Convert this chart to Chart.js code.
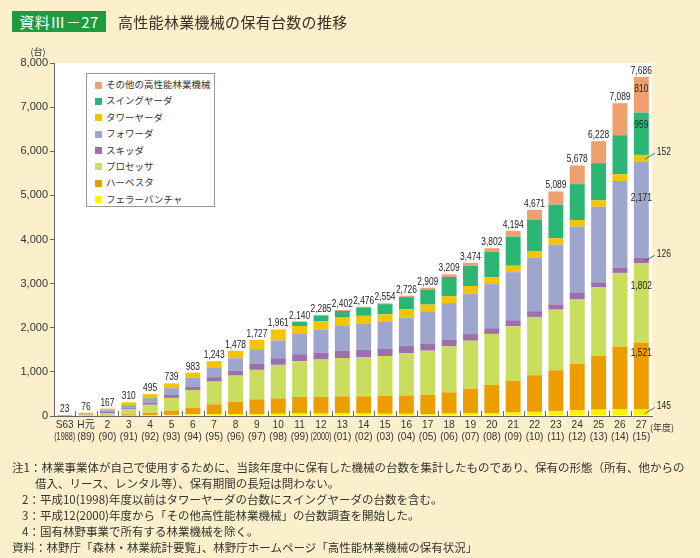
<!DOCTYPE html>
<html lang="ja">
<head>
<meta charset="utf-8">
<script src="https://cdn.jsdelivr.net/npm/chart.js@4.4.1/dist/chart.umd.min.js"></script>
<style>
    body { margin: 0; background: #fbf0cb; }
    #wrap { position: relative; width: 700px; height: 558px; overflow: hidden; font-family: "Noto Sans CJK JP", "Noto Sans", sans-serif; }
    #chart { position: absolute; left: 0; top: 0; }
    .tag { position: absolute; left: 12px; top: 11px; width: 94px; height: 21px; background: #1e9a3f; color: #fff; font-size: 15px; line-height: 21px; text-align: center; letter-spacing: 0.5px; }
    .title { position: absolute; left: 118px; top: 11px; font-size: 15px; line-height: 21px; color: #3e2e24; letter-spacing: 0.3px; }
    #legend { position: absolute; left: 86px; top: 73px; width: 129px; height: 134px; border: 1px solid #999; background: #fff; box-sizing: border-box; padding-top: 2px; }
    #legend div { height: 16.4px; line-height: 16.4px; font-size: 9.5px; color: #333; white-space: nowrap; }
    #legend span { display: inline-block; width: 7px; height: 7px; margin: 0 4px 0 8px; vertical-align: -0.5px; }
    .note { position: absolute; font-size: 11.5px; line-height: 14px; color: #333; white-space: nowrap; }
</style>
</head>
<body>
<div id="wrap">
    <canvas id="chart" width="700" height="558"></canvas>
    <div class="tag">資料Ⅲ－27</div>
    <div class="title">高性能林業機械の保有台数の推移</div>
    <div id="legend"></div>
    <div class="note" style="left:12px;top:460px">注1：林業事業体が自己で使用するために、当該年度中に保有した機械の台数を集計したものであり、保有の形態（所有、他からの</div>
    <div class="note" style="left:35px;top:476px">借入、リース、レンタル等）、保有期間の長短は問わない。</div>
    <div class="note" style="left:22px;top:492px">2：平成10(1998)年度以前はタワーヤーダの台数にスイングヤーダの台数を含む。</div>
    <div class="note" style="left:22px;top:508px">3：平成12(2000)年度から「その他高性能林業機械」の台数調査を開始した。</div>
    <div class="note" style="left:22px;top:524px">4：国有林野事業で所有する林業機械を除く。</div>
    <div class="note" style="left:12px;top:540px">資料：林野庁「森林・林業統計要覧」、林野庁ホームページ「高性能林業機械の保有状況」</div>
</div>
<script>
const years = ["S63", "H元", "2", "3", "4", "5", "6", "7", "8", "9", "10", "11", "12", "13",
    "14", "15", "16", "17", "18", "19", "20", "21", "22", "23", "24", "25", "26", "27"];
const westernYears = ["(1988)", "(89)", "(90)", "(91)", "(92)", "(93)", "(94)", "(95)", "(96)", "(97)", "(98)", "(99)", "(2000)", "(01)",
    "(02)", "(03)", "(04)", "(05)", "(06)", "(07)", "(08)", "(09)", "(10)", "(11)", "(12)", "(13)", "(14)", "(15)"];

const fellerBuncher = [0, 2, 5, 8, 15, 25, 40, 45, 45, 45, 50, 55, 55, 60, 55, 50, 50, 40, 55, 60, 65, 80, 95, 115, 130, 143, 149, 145];
const harvester = [2, 6, 12, 30, 60, 95, 150, 220, 273, 333, 350, 375, 380, 385, 390, 410, 415, 440, 480, 560, 640, 715, 830, 920, 1055, 1220, 1425, 1521];
const processor = [10, 23, 50, 110, 180, 290, 400, 515, 598, 667, 760, 810, 845, 870, 890, 900, 955, 1000, 1050, 1086, 1155, 1240, 1320, 1375, 1455, 1550, 1669, 1802];
const skidder = [3, 12, 25, 30, 50, 70, 80, 100, 114, 137, 150, 160, 160, 165, 165, 160, 165, 165, 150, 150, 130, 135, 130, 120, 150, 118, 119, 126];
const forwarder = [3, 17, 40, 70, 110, 150, 200, 225, 280, 333, 400, 460, 520, 560, 590, 610, 650, 730, 825, 915, 1000, 1090, 1215, 1355, 1505, 1712, 1961, 2171];
const towerYarder = [5, 16, 35, 62, 80, 109, 113, 138, 168, 212, 251, 180, 190, 190, 180, 175, 180, 150, 160, 175, 150, 145, 150, 145, 145, 147, 156, 152];
const swingYarder = [0, 0, 0, 0, 0, 0, 0, 0, 0, 0, 0, 100, 130, 150, 190, 230, 280, 340, 430, 460, 580, 660, 710, 760, 815, 840, 885, 959];
const otherMachines = [0, 0, 0, 0, 0, 0, 0, 0, 0, 0, 0, 0, 5, 22, 16, 19, 31, 44, 59, 68, 82, 129, 221, 299, 423, 498, 725, 810];

const series = [
    { label: "フェラーバンチャ", data: fellerBuncher, color: "#fff200" },
    { label: "ハーベスタ", data: harvester, color: "#ec9d00" },
    { label: "プロセッサ", data: processor, color: "#cadd5c" },
    { label: "スキッダ", data: skidder, color: "#9c6fae" },
    { label: "フォワーダ", data: forwarder, color: "#9ea7cb" },
    { label: "タワーヤーダ", data: towerYarder, color: "#f3c400" },
    { label: "スイングヤーダ", data: swingYarder, color: "#2bb673" },
    { label: "その他の高性能林業機械", data: otherMachines, color: "#eea06f" }
];

const totals = years.map((_, i) => series.reduce((sum, s) => sum + s.data[i], 0));

// legend, top item = last stacked series
const legend = document.getElementById("legend");
series.slice().reverse().forEach(s => {
    const row = document.createElement("div");
    row.innerHTML = `<span style="background:${s.color}"></span>${s.label}`;
    legend.appendChild(row);
});

function squeezeText(ctx, text, x, y, factor) {
    const w = ctx.measureText(text).width;
    ctx.fillText(text, x, y, w * factor);
}

const extrasPlugin = {
    id: "extras",
    beforeDraw(chart) {
        const { ctx, chartArea: a } = chart;
        ctx.save();
        ctx.fillStyle = "#fff";
        ctx.fillRect(a.left, a.top, a.right - a.left, a.bottom - a.top);
        ctx.restore();
    },
    afterDraw(chart) {
        const { ctx, chartArea: a } = chart;
        const xs = chart.scales.x;
        const ys = chart.scales.y;
        ctx.save();

        // x tick marks between categories
        ctx.strokeStyle = "#666";
        ctx.lineWidth = 1;
        for (let i = 1; i < years.length; i++) {
            const x = Math.round((xs.getPixelForValue(i - 1) + xs.getPixelForValue(i)) / 2) + 0.5;
            ctx.beginPath();
            ctx.moveTo(x, a.bottom - 5);
            ctx.lineTo(x, a.bottom);
            ctx.stroke();
        }

        // x labels, two lines
        ctx.fillStyle = "#333";
        ctx.textAlign = "center";
        ctx.textBaseline = "middle";
        years.forEach((y, i) => {
            const x = xs.getPixelForValue(i);
            ctx.font = '11px "Liberation Sans", "Noto Sans CJK JP", sans-serif';
            squeezeText(ctx, y, x, a.bottom + 9, 0.92);
            ctx.font = '10px "Liberation Sans", sans-serif';
            ctx.fillText(westernYears[i], x, a.bottom + 21, 21);
        });
        ctx.font = '9px "Noto Sans CJK JP", sans-serif';
        ctx.textAlign = "left";
        ctx.fillText("(年度)", a.right - 2, a.bottom + 12);

        // unit
        ctx.textAlign = "center";
        ctx.fillText("(台)", a.left - 16, a.top - 11);

        // totals above bars
        ctx.fillStyle = "#222";
        ctx.textBaseline = "alphabetic";
        ctx.font = '10.5px "Liberation Sans", sans-serif';
        totals.forEach((t, i) => {
            squeezeText(ctx, t.toLocaleString("en-US"), xs.getPixelForValue(i), ys.getPixelForValue(t) - 3, 0.8);
        });

        // values for the last year
        const last = years.length - 1;
        const inside = { 1: 0.84, 2: 0.71, 4: 0.62, 6: 0.71, 7: 0.67 };
        ctx.textBaseline = "middle";
        series.forEach((s, d) => {
            const bar = chart.getDatasetMeta(d).data[last];
            const text = s.data[last].toLocaleString("en-US");
            if (inside[d] !== undefined) {
                ctx.textAlign = "center";
                squeezeText(ctx, text, bar.x, bar.base + (bar.y - bar.base) * inside[d], 0.8);
            } else {
                const mid = (bar.y + bar.base) / 2;
                const right = bar.x + bar.width / 2;
                ctx.strokeStyle = "#444";
                ctx.lineWidth = 0.8;
                ctx.beginPath();
                ctx.moveTo(right - 4, mid + 1);
                ctx.lineTo(right + 6, mid - 5);
                ctx.stroke();
                ctx.textAlign = "left";
                squeezeText(ctx, text, right + 8, mid - 6, 0.8);
            }
        });
        ctx.restore();
    }
};

new Chart(document.getElementById("chart"), {
    type: "bar",
    data: {
        labels: years,
        datasets: series.map(s => ({
            label: s.label,
            data: s.data,
            backgroundColor: s.color,
            borderWidth: 0,
            categoryPercentage: 1,
            barPercentage: 0.7
        }))
    },
    options: {
        responsive: false,
        animation: false,
        layout: { padding: { left: 10, right: 48, top: 63, bottom: 122 } },
        plugins: {
            legend: { display: false },
            tooltip: { enabled: false }
        },
        scales: {
            x: {
                stacked: true,
                grid: { display: false },
                border: { display: true, color: "#666" },
                ticks: { display: false },
                afterFit: (scale) => { scale.height = 20; }
            },
            y: {
                stacked: true,
                min: 0,
                max: 8000,
                grid: { drawOnChartArea: false, tickLength: 4, color: "#666" },
                border: { color: "#666" },
                ticks: {
                    stepSize: 1000,
                    padding: 2,
                    color: "#333",
                    font: { family: '"Liberation Sans", sans-serif', size: 11 },
                    callback: (v) => v.toLocaleString("en-US")
                },
                afterFit: (scale) => { scale.width = 44; }
            }
        }
    },
    plugins: [extrasPlugin]
});
</script>
</body>
</html>
